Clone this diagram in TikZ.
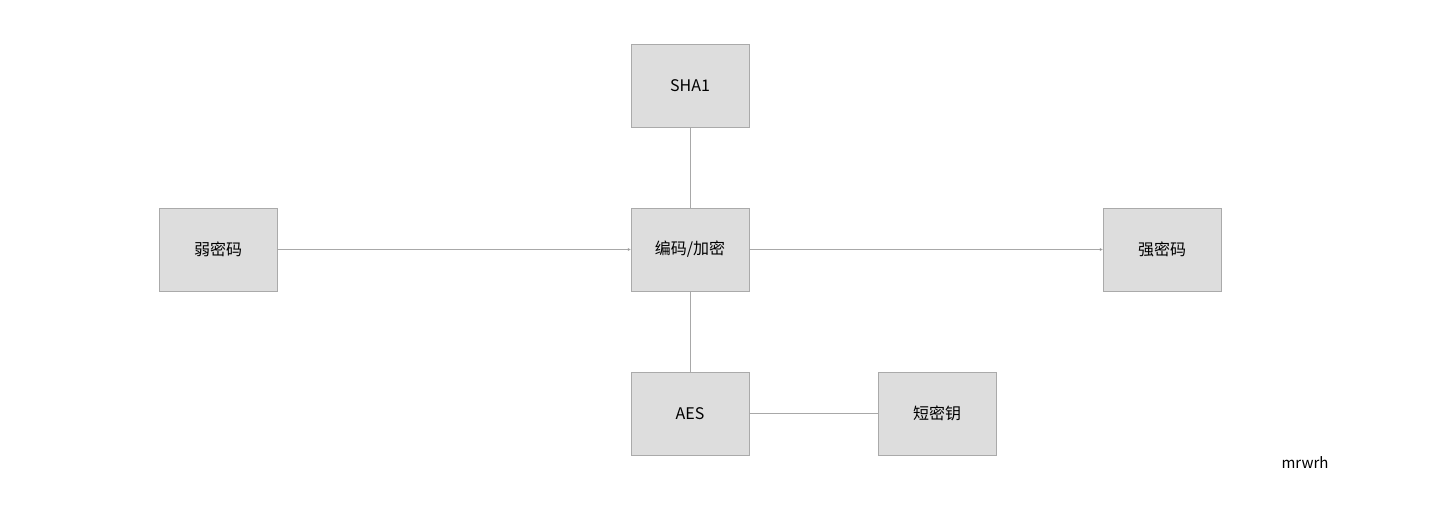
\documentclass[tikz,border=0pt]{standalone}
\usepackage{fontspec}
\setmainfont{Noto Sans CJK SC}
\usepackage{xcolor}
\definecolor{boxfill}{HTML}{DDDDDD}
\definecolor{boxline}{HTML}{AAAAAA}
\definecolor{linkgray}{HTML}{A8A8A8}
\usepackage{tikz}
\usetikzlibrary{calc,positioning,arrows.meta}
\tikzset{
    block/.style={
    rectangle,draw=boxline,fill=boxfill,line width=0.8pt,
    minimum width=118pt,minimum height=83pt,inner sep=0pt,
    font=\fontsize{16}{19}\selectfont
    },
    link/.style={draw=linkgray, line width=0.8pt},
    tip/.style={-{Stealth[length=3pt,width=3pt]}},
}

\begin{document}
\begin{tikzpicture}[x=1pt, y=-1pt]
   \useasboundingbox (0,0) rectangle (1441,505);

   \node[block] (sha)    at ( 690, 85.5) {SHA1};
   \node[block] (weak)   at ( 218,249.5) {弱密码};
   \node[block] (enc)    at ( 690,249.5) {编码/加密};
   \node[block] (strong) at (1162,249.5) {强密码};
   \node[block] (aes)    at ( 690,413.5) {AES};
   \node[block] (key)    at ( 937,413.5) {短密钥};

   \node[font=\fontsize{15}{18}\selectfont] (sign) at (1305,463) {mrwrh};

  \path[link]
    (sha) edge node {} (enc)
    (enc) edge node {} (aes)
    (aes) edge node {} (key);
  \path[link,tip]
    (weak) edge node {} (enc)
    (enc)  edge node {} (strong);
\end{tikzpicture}
\end{document}
